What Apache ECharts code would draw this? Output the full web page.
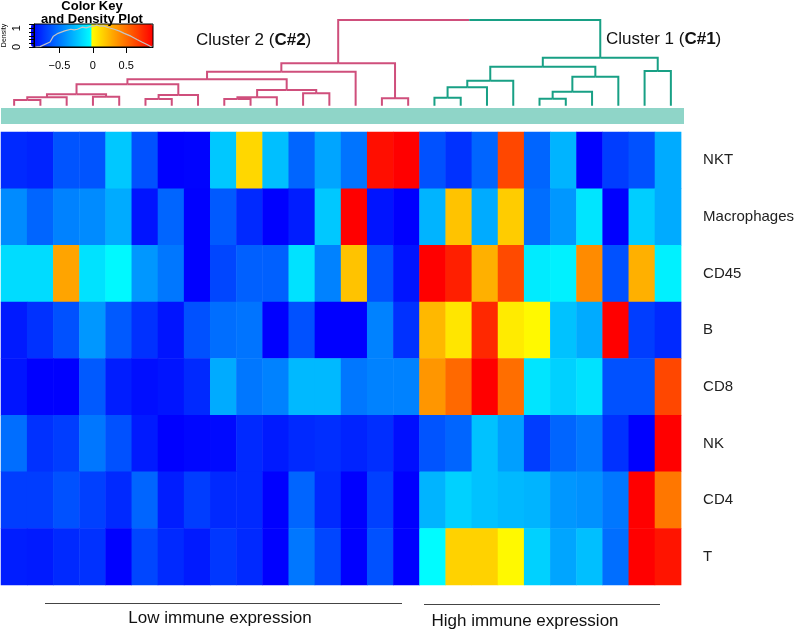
<!DOCTYPE html>
<html>
<head>
<meta charset="utf-8">
<script src="https://cdn.jsdelivr.net/npm/echarts@6/dist/echarts.min.js"></script>
<style>html,body{margin:0;padding:0;background:#fff}#c{width:797px;height:632px}</style>
</head>
<body>
<div id="c"></div>
<script>
// ---------- data ----------
const rowNames = ['NKT', 'Macrophages', 'CD45', 'B', 'CD8', 'NK', 'CD4', 'T'];
const colNames = ['1','2','3','4','5','6','7','8','9','10','11','12','13','14','15','16','17','18','19','20','21','22','23','24','25','26'];
const colCluster = [2,2,2,2,2,2,2,2,2,2,2,2,2,2,2,2,1,1,1,1,1,1,1,1,1,1];

const rowNKT  = [-0.74,-0.76,-0.59,-0.59,-0.19,-0.60,-0.88,-0.87,-0.19,0.14,-0.22,-0.53,-0.31,-0.48,0.85,0.90,-0.60,-0.71,-0.53,0.65,-0.53,-0.26,-0.88,-0.67,-0.60,-0.29];
const rowMac  = [-0.40,-0.53,-0.43,-0.40,-0.29,-0.81,-0.53,-0.88,-0.57,-0.74,-0.88,-0.78,-0.19,0.90,-0.81,-0.88,-0.26,0.21,-0.29,0.18,-0.50,-0.36,-0.09,-0.88,-0.17,-0.29];
const rowCD45 = [-0.12,-0.12,0.32,-0.10,-0.02,-0.36,-0.47,-0.88,-0.64,-0.55,-0.55,-0.10,-0.43,0.21,-0.60,-0.81,0.90,0.79,0.28,0.64,-0.07,-0.05,0.41,-0.60,0.28,-0.05];
const rowB    = [-0.79,-0.71,-0.60,-0.36,-0.57,-0.71,-0.81,-0.60,-0.50,-0.48,-0.88,-0.60,-0.88,-0.88,-0.43,-0.71,0.25,0.09,0.76,0.07,0.02,-0.21,-0.29,0.90,-0.67,-0.74];
const rowCD8  = [-0.81,-0.88,-0.88,-0.57,-0.78,-0.83,-0.81,-0.74,-0.29,-0.47,-0.43,-0.24,-0.24,-0.47,-0.43,-0.43,0.37,0.53,0.90,0.51,-0.09,-0.16,-0.10,-0.60,-0.60,0.65];
const rowNK   = [-0.50,-0.71,-0.67,-0.47,-0.60,-0.79,-0.88,-0.86,-0.85,-0.74,-0.79,-0.74,-0.72,-0.76,-0.72,-0.83,-0.59,-0.53,-0.21,-0.33,-0.67,-0.53,-0.47,-0.71,-0.88,0.90];
const rowCD4  = [-0.67,-0.67,-0.60,-0.66,-0.74,-0.53,-0.78,-0.67,-0.74,-0.74,-0.88,-0.53,-0.74,-0.88,-0.66,-0.88,-0.26,-0.16,-0.21,-0.24,-0.26,-0.36,-0.38,-0.47,0.90,0.48];
const rowT    = [-0.78,-0.79,-0.74,-0.71,-0.88,-0.64,-0.74,-0.79,-0.69,-0.74,-0.88,-0.47,-0.64,-0.88,-0.60,-0.88,-0.01,0.16,0.16,0.02,-0.16,-0.31,-0.22,-0.50,0.90,0.83];
const heatRows = [rowNKT, rowMac, rowCD45, rowB, rowCD8, rowNK, rowCD4, rowT];

// dendrogram (hclust style: negative = leaf column, positive = earlier merge)
const dendroMerge = [
  [-1,-2],[1,-3],[-4,-5],[2,3],[-6,-7],[5,-8],[4,6],[-9,-10],[8,-11],[-12,-13],
  [9,10],[7,11],[12,-14],[-15,-16],[13,14],
  [-17,-18],[16,-19],[17,-20],[-21,-22],[19,-23],[20,-24],[18,21],[-25,-26],[22,23],
  [15,24]
];
const dendroHeight = [0.067,0.098,0.105,0.133,0.078,0.125,0.25,0.078,0.098,0.145,
  0.183,0.308,0.397,0.086,0.495,
  0.093,0.215,0.292,0.082,0.163,0.338,0.455,0.405,0.56,
  1.0];

// colour key
const keyMin = -0.88, keyMax = 0.9;
const keyTicks = [-0.5, 0, 0.5];
const densityTicks = [0, 0.2, 0.4, 0.6, 0.8, 1.0, 1.2];
const densityLabels = [0, 1];
const densityX = [-0.86,-0.79,-0.64,-0.59,-0.52,-0.42,-0.33,-0.28,-0.23,-0.16,-0.10,-0.04,0.02,0.06,0.10,0.155,0.24,0.32,0.40,0.47,0.57,0.66,0.74,0.81,0.88];
const densityY = [0.0,0.02,0.27,0.58,0.73,0.86,0.95,0.92,0.95,1.06,1.02,1.09,1.12,1.18,1.12,1.13,1.03,0.95,0.85,0.73,0.58,0.40,0.25,0.13,0.0];

// ---------- helpers ----------
function paletteColor(v) {
  let r, g, b;
  if (v < 0) { const t = Math.max(0, Math.min(1, (v - keyMin) / (0 - keyMin))); r = 0; g = Math.round(255 * t); b = 255; }
  else { const t = Math.max(0, Math.min(1, v / keyMax)); r = 255; g = Math.round(255 * (1 - t)); b = 0; }
  return 'rgb(' + r + ',' + g + ',' + b + ')';
}
const paletteStops = [];
const NSTOP = 356;
for (let i = 0; i <= NSTOP; i++) paletteStops.push(paletteColor(keyMin + (keyMax - keyMin) * i / NSTOP));

const heatData = [];
heatRows.forEach((row, r) => row.forEach((v, c) => heatData.push([c, r, v])));

// dendrogram segments
const mergeX = [], mergeCl = [];
function nodePos(id) { return id < 0 ? (-id - 0.5) : mergeX[id - 1]; }
function nodeH(id) { return id < 0 ? 0 : dendroHeight[id - 1]; }
function nodeCl(id) { return id < 0 ? colCluster[-id - 1] : mergeCl[id - 1]; }
const dendroSegs = [];
dendroMerge.forEach((m, i) => {
  const xa = nodePos(m[0]), xb = nodePos(m[1]);
  const xm = (xa + xb) / 2, h = dendroHeight[i];
  mergeX.push(xm);
  const ca = nodeCl(m[0]), cb = nodeCl(m[1]);
  mergeCl.push(ca === cb ? ca : 0);
  dendroSegs.push([xa, nodeH(m[0]), xm, h, ca]);
  dendroSegs.push([xb, nodeH(m[1]), xm, h, cb]);
});
const pink = '#CF4F7C', green = '#18A085';

const FONT = '"Liberation Sans", Arial, sans-serif';
const chart = echarts.init(document.getElementById('c'), null, {renderer: 'canvas'});

const option = {
  animation: false,
  backgroundColor: '#fff',
  textStyle: {fontFamily: FONT},
  grid: [
    {left: 1, right: 113, top: 132, bottom: 47},               // heatmap
    {left: 1, right: 113, top: 20, height: 85.7},             // dendrogram
    {left: 1, right: 113, top: 108, height: 16},              // side bar
    {left: 31, top: 24, width: 122, height: 23, show: true, borderColor: '#000', borderWidth: 1, backgroundColor: 'transparent', z: 10} // key
  ],
  xAxis: [
    {type: 'category', data: colNames, gridIndex: 0, show: false},
    {type: 'value', gridIndex: 1, min: 0, max: 26, show: false},
    {type: 'value', gridIndex: 2, min: 0, max: 26, show: false},
    {type: 'value', gridIndex: 3, min: keyMin, max: keyMax, z: 10,
      axisLine: {show: true, onZero: false, lineStyle: {color: '#000', width: 1}},
      axisTick: {show: true, length: 6, customValues: keyTicks, lineStyle: {color: '#000'}},
      axisLabel: {customValues: keyTicks, fontSize: 11, color: '#000', margin: 13,
        formatter: v => (v < 0 ? '\u2212' + Math.abs(v) : String(v))},
      splitLine: {show: false}}
  ],
  yAxis: [
    {type: 'category', data: rowNames, gridIndex: 0, inverse: true, position: 'right',
      axisLine: {show: false}, axisTick: {show: false},
      axisLabel: {fontSize: 15, color: '#222', margin: 22, padding: [10, 0, 0, 0], fontFamily: FONT}},
    {type: 'value', gridIndex: 1, min: 0, max: 1, show: false},
    {type: 'value', gridIndex: 2, min: 0, max: 1, show: false},
    {type: 'value', gridIndex: 3, min: 0, max: 1.23, z: 10, position: 'left',
      name: 'Density', nameLocation: 'middle', nameRotate: 90, nameGap: 26,
      nameTextStyle: {fontSize: 7, color: '#000'},
      axisLine: {show: true, onZero: false, lineStyle: {color: '#000'}},
      axisTick: {show: true, length: 5, customValues: densityTicks, lineStyle: {color: '#000'}},
      axisLabel: {customValues: densityLabels, rotate: 90, fontSize: 11, color: '#000', margin: 12},
      splitLine: {show: false}}
  ],
  visualMap: {
    type: 'continuous', seriesIndex: 0, min: keyMin, max: keyMax,
    orient: 'horizontal', left: 31, top: 24, itemWidth: 23, itemHeight: 122,
    padding: 0, calculable: false, hoverLink: false, text: null, z: 4,
    inRange: {color: paletteStops}
  },
  series: [
    {type: 'heatmap', xAxisIndex: 0, yAxisIndex: 0, data: heatData, progressive: 0,
      emphasis: {disabled: true}, itemStyle: {borderWidth: 0}},
    {type: 'custom', xAxisIndex: 1, yAxisIndex: 1, data: dendroSegs, silent: true,
      renderItem: (params, api) => {
        const p0 = api.coord([api.value(0), api.value(1)]);
        const p1 = api.coord([api.value(0), api.value(3)]);
        const p2 = api.coord([api.value(2), api.value(3)]);
        return {type: 'polyline', shape: {points: [p0, p1, p2]},
          style: {stroke: api.value(4) === 2 ? pink : green, lineWidth: 2, fill: null}};
      }},
    {type: 'custom', xAxisIndex: 2, yAxisIndex: 2, data: [[0, colNames.length]], silent: true,
      renderItem: (params, api) => {
        const a = api.coord([api.value(0), 1]);
        const b = api.coord([api.value(1), 0]);
        return {type: 'rect', shape: {x: a[0], y: a[1], width: b[0] - a[0], height: b[1] - a[1]},
          style: {fill: '#8FD5C8'}};
      }},
    {type: 'line', xAxisIndex: 3, yAxisIndex: 3, z: 12, showSymbol: false, silent: true,
      data: densityX.map((x, i) => [x, densityY[i]]),
      lineStyle: {color: '#c4c4c4', width: 1.2}}
  ],
  graphic: [
    {type: 'text', x: 92, y: 6, z: 20, style: {text: 'Color Key', font: 'bold 13px ' + FONT, fill: '#000', align: 'center', verticalAlign: 'middle'}},
    {type: 'text', x: 92, y: 19, z: 20, style: {text: 'and Density Plot', font: 'bold 13px ' + FONT, fill: '#000', align: 'center', verticalAlign: 'middle'}},
    {type: 'text', x: 196, y: 40, z: 20, style: {text: 'Cluster 2 ({b|C#2})', font: '17px ' + FONT, fill: '#111', verticalAlign: 'middle',
      rich: {b: {fontWeight: 'bold', fontSize: 17, fontFamily: FONT, fill: '#111'}}}},
    {type: 'text', x: 606, y: 39, z: 20, style: {text: 'Cluster 1 ({b|C#1})', font: '17px ' + FONT, fill: '#111', verticalAlign: 'middle',
      rich: {b: {fontWeight: 'bold', fontSize: 17, fontFamily: FONT, fill: '#111'}}}},
    {type: 'line', z: 20, shape: {x1: 45, y1: 603.5, x2: 402, y2: 603.5}, style: {stroke: '#444', lineWidth: 1}},
    {type: 'line', z: 20, shape: {x1: 424, y1: 604.5, x2: 660, y2: 604.5}, style: {stroke: '#444', lineWidth: 1}},
    {type: 'text', x: 220, y: 618, z: 20, style: {text: 'Low immune expression', font: '17px ' + FONT, fill: '#111', align: 'center', verticalAlign: 'middle'}},
    {type: 'text', x: 525, y: 621, z: 20, style: {text: 'High immune expression', font: '17px ' + FONT, fill: '#111', align: 'center', verticalAlign: 'middle'}}
  ]
};
chart.setOption(option);
</script>
</body>
</html>
